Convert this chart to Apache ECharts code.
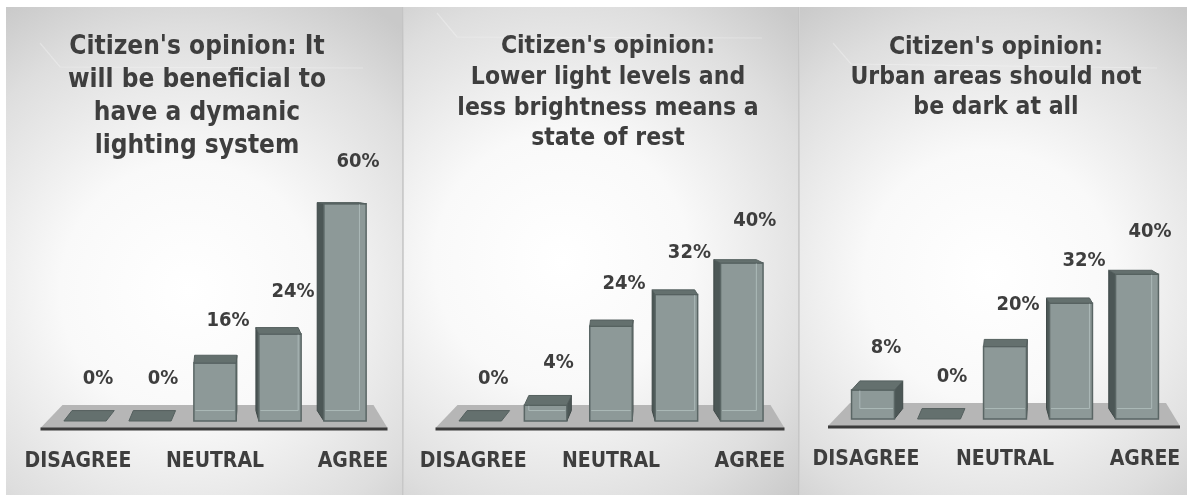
<!DOCTYPE html>
<html>
<head>
<meta charset="utf-8">
<script src="https://cdn.jsdelivr.net/npm/echarts@6/dist/echarts.min.js"></script>
<style>
  html, body { margin: 0; padding: 0; background: #ffffff; }
  #chart { width: 1187px; height: 495px; }
</style>
</head>
<body>
<div id="chart"></div>
<script>
// Survey answers, one small chart per statement
const categories = ['DISAGREE', '', 'NEUTRAL', '', 'AGREE'];

const titleBeneficial = "Citizen's opinion: It\nwill be beneficial to\nhave a dymanic\nlighting system";
const titleRest = "Citizen's opinion:\nLower light levels and\nless brightness means a\nstate of rest";
const titleDark = "Citizen's opinion:\nUrban areas should not\nbe dark at all";

const beneficialValues = [0, 0, 16, 24, 60];
const restValues = [0, 4, 24, 32, 40];
const darkValues = [8, 0, 20, 32, 40];

const FONT = '"DejaVu Sans Condensed", "DejaVu Sans", sans-serif';
const TEXT_COLOR = '#3e3e3e';

// Panel layout (pixels)
const panels = [
  { title: titleBeneficial, values: beneficialValues,
    x: 6, w: 397, glow: [0.46, 0.58],
    titleX: 197, titleTop: 30.5, titleSize: 26, titleLH: 33,
    grid: { left: 52.5, width: 325, top: 167.6, bottom: 74 } },
  { title: titleRest, values: restValues,
    x: 404, w: 395, glow: [0.4, 0.52],
    titleX: 608, titleTop: 31.5, titleSize: 24.5, titleLH: 30.7,
    grid: { left: 447.5, width: 327, top: 144.5, bottom: 74 } },
  { title: titleDark, values: darkValues,
    x: 800, w: 387, glow: [0.49, 0.55],
    titleX: 996, titleTop: 33, titleSize: 24.5, titleLH: 30,
    grid: { left: 840, width: 330, top: 165.6, bottom: 76 } }
];
const Y_MAX = 70;

// Grey floor plate the boxes stand on
function renderFloor(params, api) {
  const band = api.size([1, 0])[0];
  const a = api.coord([0, 0]);
  const b = api.coord([categories.length - 1, 0]);
  const gl = a[0] - band / 2, gr = b[0] + band / 2, yb = a[1];
  return {
    type: 'group',
    children: [
      { type: 'polygon',
        shape: { points: [[gl + 10, yb - 16], [gr - 4, yb - 16], [gr + 10, yb + 7], [gl - 12, yb + 7]] },
        style: { fill: '#b6b6b6' } },
      { type: 'line',
        shape: { x1: gl - 12, y1: yb + 8, x2: gr + 10, y2: yb + 8 },
        style: { stroke: '#3b3b3b', lineWidth: 3 } }
    ]
  };
}

// Translucent box in perspective: side face, front face, see-through back edges, top cap, value label
function renderBox(params, api) {
  const k = api.value(0), v = api.value(1);
  const top = api.coord([k, v]);
  const base = api.coord([k, 0]);
  const band = api.size([1, 0])[0];
  const w = band * 0.65;
  const cx = top[0], yt = top[1], yb = base[1];
  const vpX = api.coord([2, 0])[0] + band * 0.2;
  const eyeY = yb - 232;
  const depth = y => Math.max(1.2, (y - eyeY) * 0.045);
  const dTop = depth(yt), dBase = depth(yb);
  const dx = (vpX - cx) * 0.057;
  const x0 = cx - w / 2, x1 = cx + w / 2;
  const h = yb - yt;
  const children = [];

  if (h > 0.5 && Math.abs(dx) > 0.5) {
    const sx = dx < 0 ? x0 : x1;
    children.push({ type: 'polygon',
      shape: { points: [[sx, yt], [sx + dx, yt - dTop], [sx + dx, yb - dBase], [sx, yb]] },
      style: { fill: '#4c5756', stroke: '#3e4847', lineWidth: 1 } });
  }
  if (h > 0.5) {
    children.push({ type: 'rect',
      shape: { x: x0, y: yt, width: w, height: h },
      style: { fill: '#8d9998', stroke: '#5a6665', lineWidth: 1.5 } });
    const by = yb - dBase;
    const hx0 = Math.max(x0 + 1.5, x0 + dx), hx1 = Math.min(x1 - 1.5, x1 + dx);
    if (by > yt + 1) {
      children.push({ type: 'line', shape: { x1: hx0, y1: by, x2: hx1, y2: by },
        style: { stroke: 'rgba(175,188,187,0.9)', lineWidth: 1 } });
    }
    const vx = dx < 0 ? x1 + dx : x0 + dx;
    if (Math.abs(dx) > 1.5) {
      children.push({ type: 'line', shape: { x1: vx, y1: yt, x2: vx, y2: Math.max(yt, by) },
        style: { stroke: 'rgba(175,188,187,0.9)', lineWidth: 1 } });
    }
  }
  children.push({ type: 'polygon',
    shape: { points: [[x0, yt], [x1, yt], [x1 + dx, yt - dTop], [x0 + dx, yt - dTop]] },
    style: { fill: '#64706e', stroke: '#55605f', lineWidth: 1 } });
  children.push({ type: 'text', x: cx + 13, y: yt - 42,
    style: { text: v + '%', align: 'center', verticalAlign: 'middle',
      fill: TEXT_COLOR, font: 'bold 20px ' + FONT } });
  return { type: 'group', children };
}

const graphicElements = [];
panels.forEach(p => {
  graphicElements.push({
    type: 'rect', z: -10, silent: true,
    shape: { x: p.x, y: 7, width: p.w, height: 488 },
    style: { fill: { type: 'radial', x: p.glow[0], y: p.glow[1], r: 0.85,
      colorStops: [
        { offset: 0, color: '#ffffff' },
        { offset: 0.38, color: '#f9f9f9' },
        { offset: 0.78, color: '#dedede' },
        { offset: 1, color: '#c9c9c9' }
      ] } }
  });
});
// separators between the panels
[403, 799].forEach(x => graphicElements.push({
  type: 'line', z: -9, silent: true,
  shape: { x1: x, y1: 7, x2: x, y2: 495 },
  style: { stroke: '#c2c2c2', lineWidth: 1.5 }
}));
// faint glossy strokes near the top of each panel
[
  [[40, 43], [60, 67], [363, 68]],
  [[437, 13], [457, 37], [762, 38]],
  [[833, 43], [851, 64], [1157, 68]]
].forEach(pts => graphicElements.push({
  type: 'polyline', z: -9, silent: true,
  shape: { points: pts },
  style: { stroke: 'rgba(255,255,255,0.28)', lineWidth: 1.2, fill: null }
}));

const option = {
  animation: false,
  backgroundColor: '#ffffff',
  graphic: { elements: graphicElements },
  title: panels.map(p => ({
    text: p.title, left: p.titleX, top: p.titleTop, textAlign: 'center', padding: 0,
    textStyle: { fontSize: p.titleSize, lineHeight: p.titleLH, fontWeight: 'bold',
      color: TEXT_COLOR, fontFamily: FONT }
  })),
  grid: panels.map(p => ({ left: p.grid.left, width: p.grid.width, top: p.grid.top, bottom: p.grid.bottom })),
  xAxis: panels.map((p, i) => ({
    type: 'category', gridIndex: i, data: categories,
    axisLine: { show: false }, axisTick: { show: false }, splitLine: { show: false },
    axisLabel: {
      interval: 0, margin: 30, color: TEXT_COLOR, fontWeight: 'bold', fontSize: 21, fontFamily: FONT,
      formatter: (val, idx) => idx === 0 ? '{l|' + val + '}' : idx === categories.length - 1 ? '{r|' + val + '}' : val,
      rich: {
        l: { padding: [0, 14, 0, 0], color: TEXT_COLOR, fontWeight: 'bold', fontSize: 21, fontFamily: FONT },
        r: { padding: [0, 0, 0, 16], color: TEXT_COLOR, fontWeight: 'bold', fontSize: 21, fontFamily: FONT }
      }
    }
  })),
  yAxis: panels.map((p, i) => ({ type: 'value', gridIndex: i, min: 0, max: Y_MAX, show: false, splitLine: { show: false } })),
  series: panels.flatMap((p, i) => [
    { type: 'custom', xAxisIndex: i, yAxisIndex: i, clip: false, z: 2,
      data: [[0, 0]], renderItem: renderFloor, silent: true },
    { type: 'custom', xAxisIndex: i, yAxisIndex: i, clip: false, z: 3,
      data: p.values.map((v, k) => [k, v]), renderItem: renderBox }
  ])
};

const chart = echarts.init(document.getElementById('chart'), null, { renderer: 'canvas' });
chart.setOption(option);
</script>
</body>
</html>
